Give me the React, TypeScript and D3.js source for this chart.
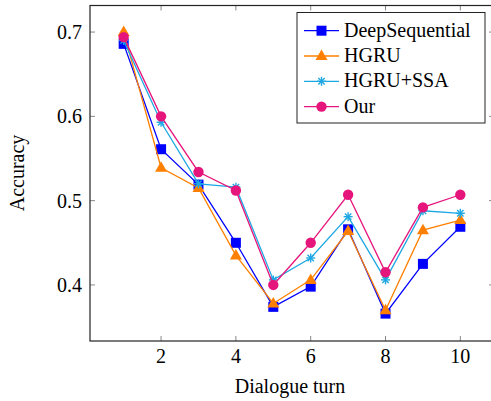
import React, { useEffect, useRef } from 'react';
import * as d3 from 'd3';

const turns = [1, 2, 3, 4, 5, 6, 7, 8, 9, 10];
const deepSequential = [0.686, 0.561, 0.519, 0.45, 0.374, 0.398, 0.466, 0.366, 0.425, 0.469];
const hgru = [0.7, 0.539, 0.515, 0.435, 0.378, 0.406, 0.464, 0.37, 0.465, 0.477];
const hgruSsa = [0.69, 0.593, 0.52, 0.516, 0.406, 0.432, 0.481, 0.406, 0.488, 0.485];
const our = [0.694, 0.6, 0.534, 0.512, 0.4, 0.45, 0.507, 0.415, 0.492, 0.507];
const xTicks = [2, 4, 6, 8, 10];
const yTicks = [0.4, 0.5, 0.6, 0.7];

const series = [
  { name: 'DeepSequential', values: deepSequential, color: '#0000ff', mark: 'square' },
  { name: 'HGRU', values: hgru, color: '#ff8000', mark: 'triangle' },
  { name: 'HGRU+SSA', values: hgruSsa, color: '#1ea8e3', mark: 'star' },
  { name: 'Our', values: our, color: '#e6157c', mark: 'circle' },
];

const font = "'Liberation Serif', 'DejaVu Serif', serif";

const App = () => {
  const svgRef = useRef<SVGSVGElement>(null);

  useEffect(() => {
    const svg = d3.select(svgRef.current);
    svg.selectAll('*').remove();

    const left = 90, right = 494, top = 5.5, bottom = 341;
    const x = d3.scaleLinear().domain([0.1, 10.9]).range([left, right]);
    const y = d3.scaleLinear().domain([0.3335, 0.7315]).range([bottom, top]);

    const g = svg.append('g').attr('font-family', font).attr('font-size', 20);

    // ticks (inward, all four sides)
    xTicks.forEach(t => {
      g.append('line').attr('x1', x(t)).attr('x2', x(t)).attr('y1', bottom).attr('y2', bottom - 5)
        .attr('stroke', '#888').attr('stroke-width', 1);
      g.append('line').attr('x1', x(t)).attr('x2', x(t)).attr('y1', top).attr('y2', top + 5)
        .attr('stroke', '#888').attr('stroke-width', 1);
      g.append('text').attr('x', x(t)).attr('y', bottom + 22).attr('text-anchor', 'middle').text(t);
    });
    yTicks.forEach(t => {
      g.append('line').attr('x1', left).attr('x2', left + 5).attr('y1', y(t)).attr('y2', y(t))
        .attr('stroke', '#888').attr('stroke-width', 1);
      g.append('line').attr('x1', right).attr('x2', right - 5).attr('y1', y(t)).attr('y2', y(t))
        .attr('stroke', '#888').attr('stroke-width', 1);
      g.append('text').attr('x', left - 8).attr('y', y(t) + 7).attr('text-anchor', 'end').text(t.toFixed(1));
    });

    g.append('rect').attr('x', left).attr('y', top).attr('width', right - left).attr('height', bottom - top)
      .attr('fill', 'none').attr('stroke', '#222').attr('stroke-width', 1.2);

    const drawMark = (sel: any, mark: string, cx: number, cy: number, color: string) => {
      if (mark === 'square') {
        sel.append('rect').attr('x', cx - 5).attr('y', cy - 5).attr('width', 10).attr('height', 10)
          .attr('fill', color);
      } else if (mark === 'triangle') {
        sel.append('path').attr('d', `M${cx},${cy - 6.5}L${cx + 6},${cy + 4}L${cx - 6},${cy + 4}Z`)
          .attr('fill', color);
      } else if (mark === 'circle') {
        sel.append('circle').attr('cx', cx).attr('cy', cy).attr('r', 5.2).attr('fill', color);
      } else {
        const r = 4.5;
        for (let i = 0; i < 4; i++) {
          const a = (i * Math.PI) / 4;
          sel.append('line')
            .attr('x1', cx - r * Math.cos(a)).attr('y1', cy - r * Math.sin(a))
            .attr('x2', cx + r * Math.cos(a)).attr('y2', cy + r * Math.sin(a))
            .attr('stroke', color).attr('stroke-width', 1.4);
        }
      }
    };

    const line = d3.line<number>().x((_, i) => x(turns[i])).y(d => y(d));

    series.forEach(s => {
      g.append('path').datum(s.values).attr('d', line).attr('fill', 'none')
        .attr('stroke', s.color).attr('stroke-width', 1.3);
      s.values.forEach((v, i) => drawMark(g, s.mark, x(turns[i]), y(v), s.color));
    });

    // legend
    const lg = g.append('g');
    lg.append('rect').attr('x', 297).attr('y', 12.5).attr('width', 188).attr('height', 110.5)
      .attr('fill', 'white').attr('stroke', '#222').attr('stroke-width', 1);
    series.forEach((s, i) => {
      const cy = 30.7 + i * 25.3;
      lg.append('line').attr('x1', 304).attr('x2', 339).attr('y1', cy).attr('y2', cy)
        .attr('stroke', s.color).attr('stroke-width', 1.3);
      drawMark(lg, s.mark, 321.5, cy, s.color);
      lg.append('text').attr('x', 344).attr('y', cy + 6).text(s.name);
    });

    // axis labels
    g.append('text').attr('x', 290).attr('y', 393).attr('text-anchor', 'middle')
      .text('Dialogue turn');
    g.append('text').attr('transform', `translate(24, 173) rotate(-90)`)
      .attr('text-anchor', 'middle').text('Accuracy');
  }, []);

  return (
    <svg ref={svgRef} width={491} height={401}
      style={{ position: 'absolute', left: 0, top: 0, background: 'white' }} />
  );
};

export default App;
